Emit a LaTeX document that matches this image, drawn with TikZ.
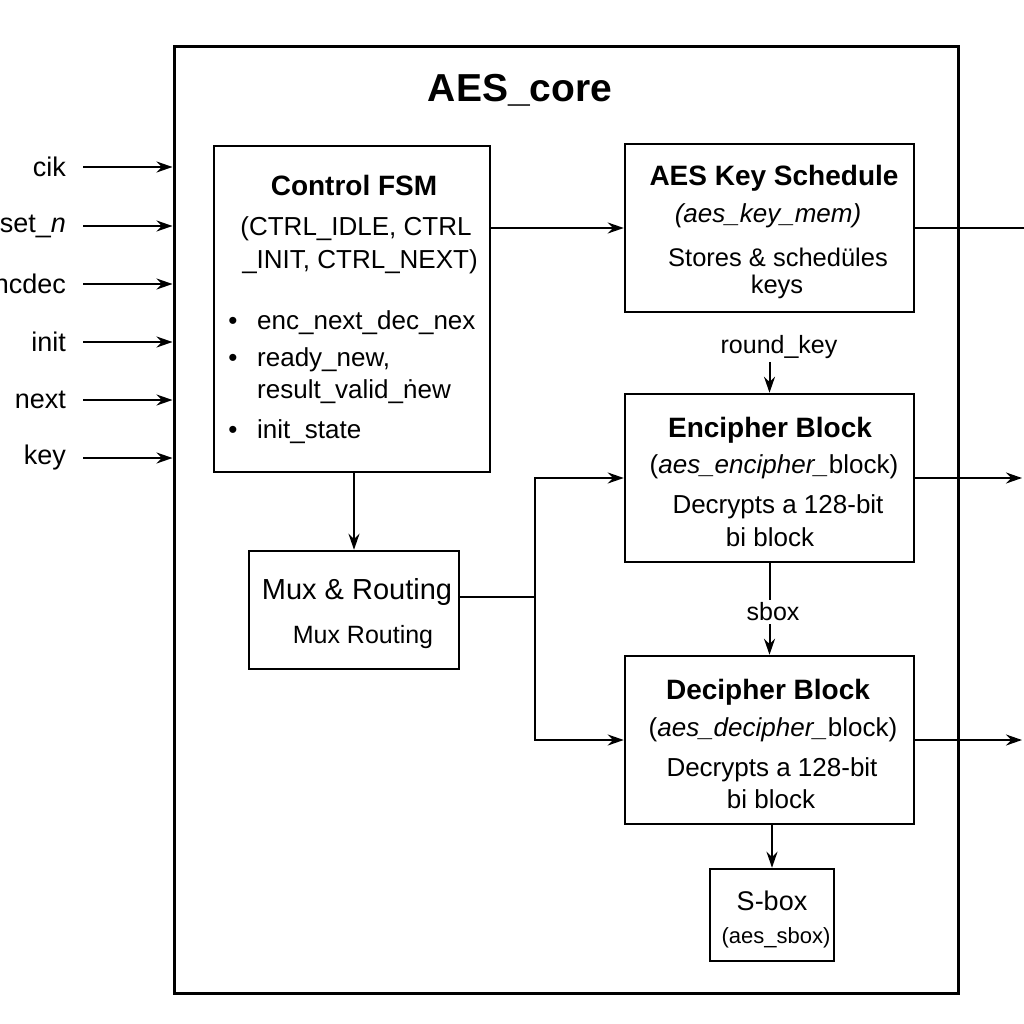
\documentclass[tikz,border=0pt]{standalone}
\usepackage{fontspec}
\setmainfont{Liberation Sans}
\usetikzlibrary{arrows.meta}

\tikzset{
  block/.style={draw, rectangle, line width=2.5pt, inner sep=0pt},
  txt/.style={font=\fontsize{26}{30}\selectfont, inner sep=0pt},
  head/.style={font=\fontsize{28}{32}\selectfont\bfseries, inner sep=0pt},
  wire/.style={line width=2pt},
  >={Stealth[length=16pt,width=11pt]}
}

\begin{document}
\begin{tikzpicture}[x=1pt, y=-1pt]
\useasboundingbox (0,0) rectangle (1024,1024);

% Core frame
\node[block, line width=3pt, minimum width=784pt, minimum height=946pt] (core) at (566,520) {};
\node[font=\fontsize{39}{44}\selectfont\bfseries, inner sep=0pt] (title) at (520,90) {AES\_core};

% Inputs
\foreach \name/\y [count=\i] in {cik/167, {set\_\textit{n}}/226, ncdec/284, init/342, next/400, key/458} {
  \node[txt, font=\fontsize{27}{30}\selectfont, anchor=east] (in\i) at (66,\y) {\name};
  \draw[wire,->] ([xshift=17pt]in\i.east) -- (core.west |- in\i.east);
}

% Control FSM
\node[block, minimum width=276pt, minimum height=326pt] (fsm) at (352,309) {};
\node[head] (fsmhead) at (354,185) {Control FSM};
\node[txt] (fsm1) at (356,229) {(CTRL\_IDLE, CTRL};
\node[txt] (fsm2) at (360,262) {\_INIT, CTRL\_NEXT)};
\node[txt] (b1) at (233,323) {•};
\node[txt] (b2) at (233,360) {•};
\node[txt] (b3) at (233,432) {•};
\node[txt, anchor=west] (fsm3) at (257,323) {enc\_next\_dec\_nex};
\node[txt, anchor=west] (fsm4) at (257,360) {ready\_new,};
\node[txt, anchor=west] (fsm5) at (257,392) {result\_valid\_ṅew};
\node[txt, anchor=west] (fsm6) at (257,432) {init\_state};

% Mux
\node[block, minimum width=210pt, minimum height=118pt] (mux) at (354,610) {};
\node[txt, font=\fontsize{29}{32}\selectfont] (muxhead) at (357,592) {Mux \& Routing};
\node[txt, font=\fontsize{25}{30}\selectfont] (muxsub) at (363,637) {Mux Routing};

% Key schedule
\node[block, minimum width=289pt, minimum height=168pt] (keysched) at (769.5,228) {};
\node[head] (keyhead) at (774,178) {AES Key Schedule};
\node[txt] (key1) at (768,216) {\textit{(aes\_key\_mem)}};
\node[txt, font=\fontsize{25.5}{30}\selectfont] (key2) at (778,257) {Stores \& schedüles};
\node[txt, font=\fontsize{25.5}{30}\selectfont] (key3) at (777,287) {keys};

% Encipher
\node[block, minimum width=289pt, minimum height=168pt] (enc) at (769.5,478) {};
\node[head] (enchead) at (770,430) {Encipher Block};
\node[txt] (enc1) at (774,467) {(\textit{aes\_encipher\_}block)};
\node[txt] (enc2) at (778,507) {Decrypts a 128-bit};
\node[txt] (enc3) at (770,537) {bi block};

% Decipher
\node[block, minimum width=289pt, minimum height=168pt] (dec) at (769.5,740) {};
\node[head] (dechead) at (768,692) {Decipher Block};
\node[txt] (dec1) at (773,730) {(\textit{aes\_decipher\_}block)};
\node[txt] (dec2) at (772,770) {Decrypts a 128-bit};
\node[txt] (dec3) at (771,799) {bi block};

% S-box
\node[block, minimum width=124pt, minimum height=92pt] (sbox) at (772,915) {};
\node[txt, font=\fontsize{27}{30}\selectfont] (sboxhead) at (772,901) {S-box};
\node[txt, font=\fontsize{22}{26}\selectfont] (sboxsub) at (776,938) {(aes\_sbox)};

% Signal labels
\node[txt, font=\fontsize{25}{30}\selectfont, inner sep=3pt] (rk) at (779,347) {round\_key};
\node[txt, font=\fontsize{25}{30}\selectfont, inner sep=3pt] (sb) at (773,612) {sbox};

% Outputs
\coordinate (kout) at (1024,228);
\coordinate (encout) at (1022,478);
\coordinate (decout) at (1022,740);
\coordinate (fork) at (535,597);

% Wires
\draw[wire,->] (fsm.east |- keysched.west) -- (keysched.west);
\draw[wire] (keysched.east) -- (kout);
\draw[wire,->] (enc.north |- rk.south) -- (enc.north);
\draw[wire] (enc.south) -- (enc.south |- sb.north);
\draw[wire,->] (dec.north |- sb.south) -- (dec.north);
\draw[wire,->] (enc.east) -- (encout);
\draw[wire,->] (dec.east) -- (decout);
\draw[wire,->] (sbox.north |- dec.south) -- (sbox.north);
\draw[wire,->] (mux.north |- fsm.south) -- (mux.north);
\draw[wire] (mux.east |- fork) -- (fork);
\draw[wire,->] (fork) |- (enc.west);
\draw[wire,->] (fork) |- (dec.west);
\end{tikzpicture}
\end{document}
